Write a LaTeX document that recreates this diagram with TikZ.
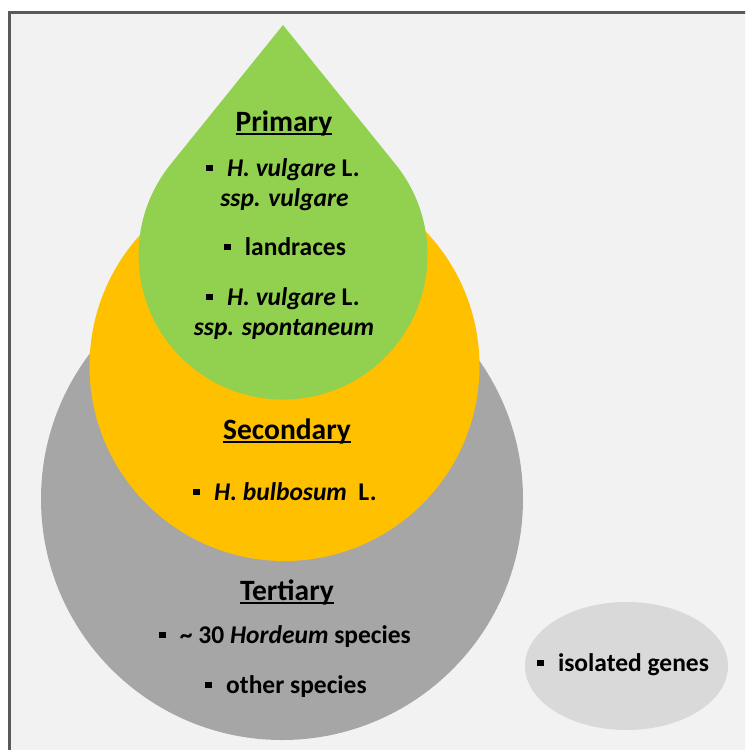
\documentclass[tikz,border=0pt]{standalone}
\usepackage{fontspec}
\setmainfont{Carlito}
\definecolor{framec}{HTML}{595959}
\definecolor{bgc}{HTML}{F2F2F2}
\definecolor{greenc}{HTML}{92D050}
\definecolor{yellowc}{HTML}{FFC000}
\definecolor{grayc}{HTML}{A6A6A6}
\definecolor{lightc}{HTML}{D9D9D9}
\newcommand\bul{\raisebox{0.18em}{\rule{0.27em}{0.27em}}}
\newcommand\hdul[1]{\setbox0\hbox{#1}\rlap{\rule[-0.15em]{\wd0}{0.07em}}\box0}
\tikzset{
  heading/.style={font=\fontsize{29.5}{33}\selectfont\bfseries, inner sep=0pt, anchor=base},
  item/.style={font=\fontsize{25.5}{30}\selectfont\bfseries, inner sep=0pt, anchor=base},
}
\begin{document}
\begin{tikzpicture}[x=1pt,y=-1pt]
\useasboundingbox (0,0) rectangle (745,750);
\clip (0,0) rectangle (745,750);
\fill[white] (0,0) rectangle (745,750);
\draw[framec, fill=bgc, line width=3pt] (9,12.5) rectangle (770,780);
% shapes
\fill[grayc] (282,499) circle[radius=241];
\fill[yellowc] (284.5,366) circle[radius=195];
\fill[greenc] (283,25) -- (170.6,164.3) arc[start angle=218.9, end angle=-38.9, radius=144.5] -- cycle;
\fill[lightc] (626.5,666) ellipse[x radius=101.5, y radius=64];
% texts
\node[heading] (prim) at (284,131) {\hdul{Primary}};
\node[item] (p1a) at (283,176) {\bul\hspace{0.55em}\textit{H. vulgare} L.};
\node[item] (p1b) at (284.5,206) {\textit{ssp. vulgare}};
\node[item] (p2) at (285,255) {\bul\hspace{0.55em}landraces};
\node[item] (p3a) at (283,305) {\bul\hspace{0.55em}\textit{H. vulgare} L.};
\node[item] (p3b) at (284,335) {\textit{ssp. spontaneum}};
\node[heading] (sec) at (287,439) {\hdul{Secondary}};
\node[item] (s1) at (285,500) {\bul\hspace{0.55em}\textit{H. bulbosum}\ \ L.};
\node[heading] (ter) at (287,600) {\hdul{Tertiary}};
\node[item] (t1) at (285,643) {\bul\hspace{0.55em}\textasciitilde\ 30 \textit{Hordeum} species};
\node[item] (t2) at (286,693) {\bul\hspace{0.55em}other species};
\node[item] (iso) at (623,671) {\bul\hspace{0.55em}isolated genes};
\end{tikzpicture}
\end{document}
